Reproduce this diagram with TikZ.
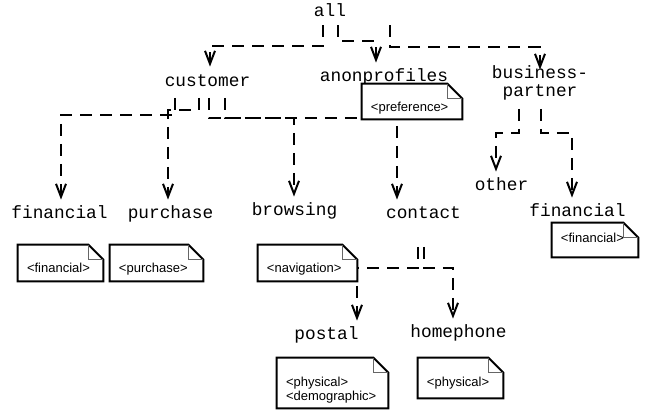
\documentclass[tikz,border=0pt]{standalone}
\usepackage{fontspec}
\setmainfont{Liberation Sans}
\setmonofont{Liberation Mono}
\usetikzlibrary{arrows.meta}

\tikzset{
  part/.style={font=\ttfamily\fontsize{8.9}{9}\selectfont, anchor=base, align=center,
    inner xsep=1pt, inner ysep=4pt, text height=5.5pt, text depth=1.8pt},
  dep/.style={line width=1pt, dash pattern=on 6pt off 4pt,
    -{Straight Barb[length=6.5pt,width=5pt]}},
  note/.style={fill=white, font=\fontsize{6.5}{7}\selectfont, align=left,
    inner xsep=4.5pt, inner ysep=2pt, text height=11.75pt, text depth=2.25pt},
  noteline/.style={line width=1pt, line join=miter},
  foldline/.style={line width=0.4pt, draw=black!60},
}

\begin{document}
\begin{tikzpicture}[x=0.5pt,y=-0.5pt]
      \useasboundingbox (0,0) rectangle (645,412);
      \path
        (330,17) node[part, text depth=0pt] (all){all}
        (207.5,86) node[part] (customer){customer}
        (384,82) node[part] (anon){anonprofiles}
        (540,97) node[part, text height=14.5pt] (bpartner){business-\\partner}
        (59.5,219) node[part] (fincust){financial}
        (170.5,219) node[part] (purchase){purchase}
        (294.5,216) node[part] (browsing){browsing}
        (423.5,219) node[part] (contact){contact}
        (501.5,191) node[part] (other){other}
        (577.5,217) node[part] (finbp){financial}
        (326.5,340) node[part] (postal){postal}
        (458.5,338) node[part] (homephone){homephone};
      \begin{scope}[dep]
        \draw (all.south -| 323,0) |- (210,46) -- (customer.north -| 210,0);
        \draw (all.south -| 338,0) |- (376,41) -- (anon.north -| 376,0);
        \draw[shorten >=-5pt] (all.south -| 390,0) |- (540,47) -- (bpartner.north -| 540,0);
        \draw (customer.south -| 175,0) |- (61,115) -- (fincust.north -| 61,0);
        \draw (customer.south -| 199,0) |- (168,110) -- (purchase.north -| 168,0);
        \draw (customer.south -| 209,0) |- (294,118) -- (browsing.north -| 294,0);
        \draw (customer.south -| 225,0) |- (397,118) -- (contact.north -| 397,0);
        \draw (bpartner.south -| 519,0) |- (496,133) -- (other.north -| 496,0);
        \draw (bpartner.south -| 541,0) |- (572,133) -- (finbp.north -| 572,0);
        \draw (contact.south -| 418,0) ++(0,16) |- (357,268) -- (postal.north -| 357,0);
        \draw (contact.south -| 424,0) ++(0,16) |- (453,268) -- (homephone.north -| 453,0);
      \end{scope}
      % notes
      \path
        (412,101.5) node[note, text width=41pt, text depth=1.75pt] (prefnote){<preference>}
        (60.5,263) node[note, text width=33.5pt] (fincustnote){<financial>}
        (156.5,263) node[note, text width=37.5pt] (purchasenote){<purchase>}
        (307.5,263) node[note, text width=40.5pt] (navnote){<navigation>}
        (332.5,383) node[note, text width=46.5pt, text height=12.25pt, text depth=8.75pt] (postalnote){<physical>\\<demographic>}
        (460.5,378) node[note, text width=33.5pt, text height=12.25pt, text depth=3.75pt] (homenote){<physical>}
        (595,240) node[note, text width=34pt, text height=7.75pt, text depth=5.25pt] (finbpnote){<financial>};
      \foreach \n in {prefnote,fincustnote,purchasenote,navnote,postalnote,homenote,finbpnote}{
        \draw[noteline] (\n.north west) -- ([xshift=-7.5pt]\n.north east)
          -- ([yshift=-7.5pt]\n.north east) -- (\n.south east) -- (\n.south west) -- cycle;
        \draw[foldline] ([xshift=-7.5pt]\n.north east) |- ([yshift=-7.5pt]\n.north east);
      }
    \end{tikzpicture}
\end{document}
